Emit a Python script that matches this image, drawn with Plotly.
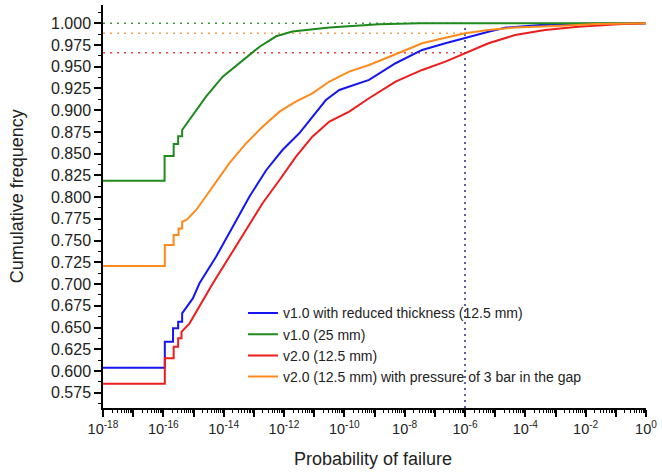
import plotly.graph_objects as go

# ---------------- data ----------------
SERIES_NAMES = [
    "v1.0 with reduced thickness (12.5 mm)",
    "v1.0 (25 mm)",
    "v2.0 (12.5 mm)",
    "v2.0 (12.5 mm) with pressure of 3 bar in the gap",
]

blue_p = [1e-18, 1.12e-16, 1.12e-16, 2.1e-16, 2.1e-16, 3.1e-16, 3.1e-16, 4.2e-16, 4.2e-16,
          5.0e-16, 9.5e-16, 1.58e-15, 5.6e-15, 2.0e-14, 7.1e-14, 2.6e-13, 8.9e-13, 3.2e-12,
          8.7e-12, 2.45e-11, 6.8e-11, 1.45e-10, 6.6e-10, 5.0e-9, 3.8e-8, 2.24e-7, 1.02e-6,
          6.0e-6, 2.3e-5, 3.2e-4, 1e-2, 1.0]
blue_f = [0.6037, 0.6037, 0.6336, 0.6336, 0.649, 0.649, 0.6566, 0.6566, 0.6663,
          0.670, 0.6835, 0.7008, 0.7314, 0.766, 0.8005, 0.8312, 0.8542, 0.8734,
          0.8925, 0.9117, 0.9232, 0.927, 0.9348, 0.954, 0.9693, 0.977, 0.9834,
          0.9903, 0.995, 0.998, 0.9995, 1.0]

green_p = [1e-18, 1.1e-16, 1.1e-16, 2.2e-16, 2.2e-16, 3.1e-16, 3.1e-16, 4.2e-16, 4.2e-16,
           7.4e-16, 2.6e-15, 9.3e-15, 4.3e-14, 1.55e-13, 5.5e-13, 1.9e-12, 3.2e-11, 1.4e-9,
           3.2e-8, 1.0]
green_f = [0.8189, 0.8189, 0.8473, 0.8473, 0.861, 0.861, 0.870, 0.870, 0.8772,
           0.8887, 0.9155, 0.9386, 0.9578, 0.973, 0.985, 0.9904, 0.995, 0.9989,
           1.0, 1.0]

red_p = [1e-18, 1.12e-16, 1.12e-16, 2.2e-16, 2.2e-16, 3.1e-16, 3.1e-16, 4.0e-16, 4.0e-16,
         5.8e-16, 7.4e-16, 4.4e-15, 1.55e-14, 5.6e-14, 1.95e-13, 7.1e-13, 2.5e-12, 8.7e-12,
         3.2e-11, 1.45e-10, 6.6e-10, 5.0e-9, 3.8e-8, 2.24e-7, 1.02e-6, 6.0e-6, 4.6e-5,
         4.5e-4, 5.6e-3, 0.117, 1.0]
red_f = [0.5853, 0.5853, 0.6145, 0.6145, 0.628, 0.628, 0.6375, 0.6375, 0.645,
         0.651, 0.6548, 0.7008, 0.7314, 0.7621, 0.7929, 0.8197, 0.8465, 0.8695,
         0.887, 0.8983, 0.9137, 0.9328, 0.9463, 0.9558, 0.9655, 0.977, 0.9865,
         0.9923, 0.996, 0.9989, 1.0]

orange_p = [1e-18, 1.12e-16, 1.12e-16, 2.2e-16, 2.2e-16, 3.2e-16, 3.2e-16, 4.2e-16, 4.2e-16,
            6.0e-16, 1.23e-15, 4.4e-15, 1.55e-14, 5.6e-14, 1.95e-13, 7.1e-13, 2.45e-12, 8.7e-12,
            3.2e-11, 1.45e-10, 6.6e-10, 5.0e-9, 3.8e-8, 2.24e-7, 1.02e-6, 6.0e-6, 4.6e-5,
            1.6e-3, 0.022, 1.0]
orange_f = [0.7207, 0.7207, 0.745, 0.745, 0.7564, 0.7564, 0.764, 0.764, 0.7717,
            0.774, 0.7852, 0.812, 0.839, 0.862, 0.881, 0.8983, 0.9098, 0.9194,
            0.933, 0.9443, 0.952, 0.9643, 0.977, 0.9834, 0.9885, 0.9923, 0.995,
            0.9972, 0.9992, 1.0]

# reference (dotted) lines
target_p = 1e-6
ref_levels = [1.000, 0.9885, 0.966]   # green, orange, red levels

# ticks
x_exponents = list(range(-18, 1))
y_ticks = [0.575, 0.600, 0.625, 0.650, 0.675, 0.700, 0.725, 0.750, 0.775, 0.800, 0.825,
           0.850, 0.875, 0.900, 0.925, 0.950, 0.975, 1.000]

# ---------------- style ----------------
C_BLUE = "#1616f2"
C_GREEN = "#1e8a1e"
C_RED = "#ee1c1c"
C_ORANGE = "#ff8a1c"
FONT = "Liberation Sans, Arial, sans-serif"
TXT = "#222222"

Y0, Y1 = 0.5574, 1.021

fig = go.Figure()

# dotted reference lines (no legend)
for lvl, col in zip(ref_levels, ["#3c9c3c", "#f5a04a", "#ee4444"]):
    fig.add_trace(go.Scatter(x=[1e-18, target_p], y=[lvl, lvl], mode="lines",
                             line=dict(color=col, width=1.6, dash="2px,5px"),
                             showlegend=False, hoverinfo="skip"))
fig.add_trace(go.Scatter(x=[target_p, target_p], y=[Y0, 1.0], mode="lines",
                         line=dict(color="#3a3a86", width=1.6, dash="2px,4px"),
                         showlegend=False, hoverinfo="skip"))

for name, xs, ys, col in zip(SERIES_NAMES,
                             [blue_p, green_p, red_p, orange_p],
                             [blue_f, green_f, red_f, orange_f],
                             [C_BLUE, C_GREEN, C_RED, C_ORANGE]):
    fig.add_trace(go.Scatter(x=xs, y=ys, mode="lines", name=name,
                             line=dict(color=col, width=2)))

minor_vals = [m * 10.0 ** e for e in range(-18, 0) for m in range(2, 10)]
tick_vals = [10.0 ** e for e in x_exponents]
tick_text = [f"10<sup>{e}</sup>" if e % 2 == 0 else "" for e in x_exponents]

fig.update_layout(
    width=662, height=472,
    margin=dict(l=103, r=14, t=5, b=64),
    paper_bgcolor="white", plot_bgcolor="white",
    font=dict(family=FONT, color=TXT, size=16),
    showlegend=True,
    legend=dict(x=0.2578, y=0.2744, xanchor="left", yanchor="top",
                bgcolor="rgba(0,0,0,0)", borderwidth=0,
                font=dict(size=14, family=FONT, color=TXT),
                itemwidth=30, tracegroupgap=0),
    xaxis=dict(type="log", range=[-18, 0], showgrid=False, zeroline=False,
               showline=True, linecolor="black", linewidth=1.5, mirror=False,
               ticks="outside", ticklen=7, tickwidth=1.5, tickcolor="black",
               tickmode="array", tickvals=tick_vals, ticktext=tick_text,
               tickfont=dict(size=14.5, family=FONT, color=TXT),
               minor=dict(tickmode="array", tickvals=minor_vals, ticks="outside",
                          ticklen=3.5, tickwidth=1, tickcolor="black", showgrid=False)),
    yaxis=dict(range=[Y0, Y1], showgrid=False, zeroline=False,
               showline=True, linecolor="black", linewidth=1.5, mirror=False,
               ticks="outside", ticklen=7, tickwidth=1.5, tickcolor="black",
               tickmode="array", tickvals=y_ticks,
               ticktext=[f"{v:.3f}" for v in y_ticks],
               tickfont=dict(size=16, family=FONT, color=TXT),
               minor=dict(dtick=0.0125, tick0=0.5625, ticks="outside",
                          ticklen=3.5, tickwidth=1, tickcolor="black", showgrid=False)),
    annotations=[
        dict(text="Probability of failure", xref="paper", yref="paper",
             x=0.4972, y=-0.127, xanchor="center", yanchor="middle", showarrow=False,
             font=dict(size=18, family=FONT, color=TXT)),
        dict(text="Cumulative frequency", xref="paper", yref="paper",
             x=-0.158, y=0.526, xanchor="center", yanchor="middle", showarrow=False,
             textangle=-90, font=dict(size=18, family=FONT, color=TXT)),
    ],
)

fig.write_html("out.html", config={"displayModeBar": False},
               post_script="document.body.style.margin='0px';")
